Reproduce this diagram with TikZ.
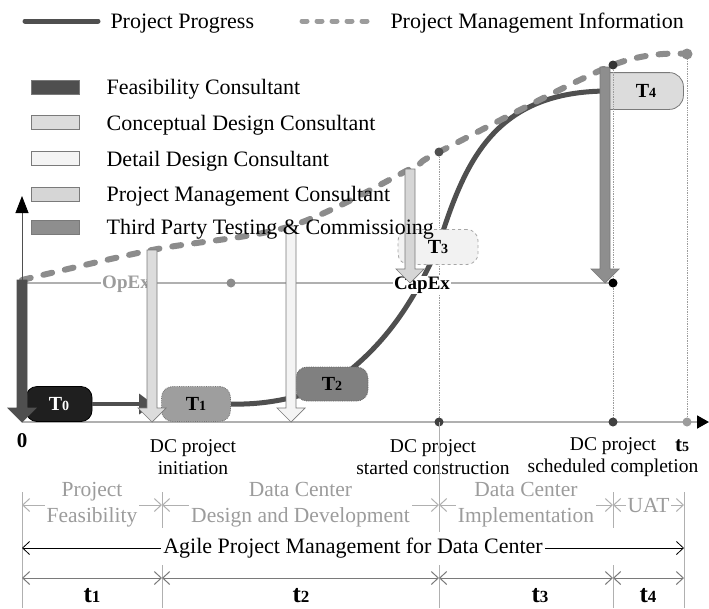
\documentclass[tikz,border=0pt]{standalone}
\usepackage{fontspec}
\setmainfont{Liberation Serif}
\usepackage{tikz}
\usetikzlibrary{shapes,arrows,arrows.meta}
\usetikzlibrary{calc,backgrounds}
\usetikzlibrary{positioning}
\usepackage{xcolor}

\definecolor{progcol}{HTML}{4F4F4F}
\definecolor{infocol}{HTML}{8C8C8C}
\definecolor{feascol}{HTML}{4F4F4F}
\definecolor{conccol}{HTML}{DCDCDC}
\definecolor{detcol}{HTML}{F4F4F4}
\definecolor{pmcol}{HTML}{D6D6D6}
\definecolor{tpcol}{HTML}{8E8E8E}
\definecolor{edgecol}{HTML}{7A7A7A}
\definecolor{softgray}{HTML}{9C9C9C}
\definecolor{linegray}{HTML}{B0B0B0}

\newcommand{\tidx}[2]{#1{\fontsize{14}{14}\selectfont #2}}
\newcommand{\bigidx}[2]{#1{\fontsize{17}{17}\selectfont #2}}
\newcommand{\blockarr}[3]{%
  \filldraw[#1] ($(#2)+(-5,0)$) -- ($(#3)+(-5,-14)$) -- ($(#3)+(-14,-14)$) -- (#3)
    -- ($(#3)+(14,-14)$) -- ($(#3)+(5,-14)$) -- ($(#2)+(5,0)$) -- cycle;}

\tikzset{
  progress/.style={line width=5pt, draw=progcol},
  info/.style={line width=6pt, draw=infocol, dash pattern=on 9pt off 13pt, line cap=round},
  infoleg/.style={line width=5pt, draw=softgray, dash pattern=on 5pt off 10pt, line cap=round},
  legbox/.style={draw=edgecol, line width=0.8pt, minimum width=48pt, minimum height=14pt, inner sep=0pt},
  legtext/.style={inner sep=0pt, text height=15pt, text depth=0pt, font=\fontsize{22}{24}\selectfont},
  tbox/.style={rounded corners=11pt, minimum height=35pt, inner sep=0pt, line width=0.8pt,
    font=\fontsize{20}{20}\selectfont\bfseries},
  blk/.style={line width=0.7pt, draw=edgecol},
  vdot/.style={densely dotted, draw=softgray, line width=0.7pt},
  tick/.style={draw=linegray, line width=1pt},
  rowgray/.style={draw=linegray, line width=1pt,
    {Straight Barb[length=7pt,width=13pt]}-{Straight Barb[length=7pt,width=13pt]}},
  rowdark/.style={draw=edgecol, line width=1pt,
    {Straight Barb[length=7pt,width=13pt]}-{Straight Barb[length=7pt,width=13pt]}},
  rowtext/.style={fill=white, inner sep=2pt, align=center, text=softgray,
    font=\fontsize{21.5}{26}\selectfont},
  dclab/.style={align=center, font=\fontsize{19.5}{22}\selectfont},
  exlab/.style={fill=white, inner sep=1pt, font=\fontsize{19}{19}\selectfont\bfseries},
  boldlab/.style={inner sep=0pt, font=\fontsize{21}{21}\selectfont\bfseries},
  tlab/.style={inner sep=0pt, font=\fontsize{25}{25}\selectfont\bfseries}
}

\begin{document}
\begin{tikzpicture}[x=1pt, y=-1pt]
  \useasboundingbox (0,0) rectangle (709,608);

  % legend
  \draw[progress, line cap=round] (25,21) -- (98,21) node[legtext, right=10pt] (lprog) {Project Progress};
  \draw[infoleg] (302,21) -- (375,21) node[legtext, right=13pt] (linfo) {Project Management Information};

  \node[legbox, fill=feascol] (bfeas) at (55,87) {};
  \node[legbox, fill=conccol] (bconc) [below=21pt of bfeas] {};
  \node[legbox, fill=detcol] (bdet) [below=21pt of bconc] {};
  \node[legbox, fill=pmcol] (bpm) [below=21pt of bdet] {};
  \node[legbox, fill=tpcol] (btp) [below=18pt of bpm] {};

  % axes and guide lines
  \coordinate (o) at (22,422);
  \coordinate (ytop) at (22,196);
  \coordinate (xend) at (709,422);
  \coordinate (opl) at (22,283);
  \coordinate (opd) at (231,283);
  \coordinate (capd) at (613,283);
  \coordinate (m0) at (22,280);
  \coordinate (m1) at (152,250);
  \coordinate (m2) at (291,226);
  \coordinate (m3) at (410,169);
  \coordinate (m4) at (439,152);
  \coordinate (m5) at (613,65);
  \coordinate (m6) at (687,54);
  \coordinate (tptop) at (605,67);

  \draw[draw=progcol, line width=0.8pt, -{Triangle[length=17pt,width=13pt,color=black]}] (o) -- (ytop);
  \draw[draw=linegray, line width=1.8pt, -{Triangle[length=12pt,width=13pt,color=black]}] (o) -- (xend);
  \draw[draw=linegray, line width=1.4pt] (opl) -- (capd);
  \draw[vdot] (m4) -- (m4 |- o);
  \draw[vdot] (m5) -- (m5 |- o);
  \draw[vdot] (m6) -- (m6 |- o);

  % OpEx / CapEx
  \node[exlab, text=softgray] (opex) at (126,284) {OpEx};
  \node[exlab] (capex) at (422,285) {CapEx};

  % stages
  \node[tbox, minimum width=66pt, fill=black!88, draw=black, text=white] (T0) at (59,404) {\tidx{T}{0}};
  \node[tbox, minimum width=69pt, fill=black!38, draw=black!55, densely dotted] (T1) at (196,404) {\tidx{T}{1}};
  \node[tbox, minimum width=72pt, minimum height=34pt, fill=black!50, draw=black!60, densely dotted] (T2) at (332,384) {\tidx{T}{2}};
  \node[tbox, minimum width=80pt, fill=black!5, draw=black!35, dashed] (T3) at (438,247) {\tidx{T}{3}};
  \node[tbox, minimum width=74pt, minimum height=36pt] (T4) at (646,91) {\tidx{T}{4}};

  \begin{scope}[on background layer]
    \draw[progress] (T1.east) .. controls (265,405) and (300,398) .. (T2.center)
      .. controls (380,350) and (410,310) .. (T3.center)
      .. controls (465,160) and (495,91) .. (T4.west);
    \draw[info] plot[smooth, tension=0.55] coordinates {(m0) (m1) (m2) (m3) (m4) (m5) (m6)};
    \filldraw[fill=conccol, draw=edgecol, line width=0.8pt] (T4.north west) [rounded corners=14pt]
      -- (T4.north east) -- (T4.south east) [sharp corners] -- (T4.south west) -- cycle;
  \end{scope}

  \draw[progress, line width=4pt, -{Triangle[length=14pt,width=20pt]}, shorten >=8pt] (T0) -- (T1);

  % consultants
  \coordinate (k1) at (m1 |- o);
  \coordinate (k2) at (m2 |- o);
  \coordinate (k3) at (m3 |- capd);
  \coordinate (k4) at (tptop |- capd);
  \blockarr{blk, fill=feascol, draw=feascol}{m0}{o}
  \blockarr{blk, fill=conccol}{m1}{k1}
  \blockarr{blk, fill=detcol}{m2}{k2}
  \blockarr{blk, fill=pmcol}{m3}{k3}
  \blockarr{blk, fill=tpcol}{tptop}{k4}

  % dots
  \fill[infocol] (opd) circle (4.5);
  \fill[black] (capd) circle (4.5);
  \fill[progcol] (m4) circle (4.5);
  \fill[black!80] (m5) circle (4.5);
  \fill[infocol] (m6) circle (5.5);
  \fill[black!75] (m4 |- o) circle (4.5);
  \fill[black!75] (m5 |- o) circle (4.5);
  \fill[softgray] (m6 |- o) circle (4.5);

  % legend texts
  \node[legtext] (tfeas) [right=27pt of bfeas] {Feasibility Consultant};
  \node[legtext] (tconc) [right=27pt of bconc] {Conceptual Design Consultant};
  \node[legtext] (tdet) [right=27pt of bdet] {Detail Design Consultant};
  \node[legtext] (tpm) [right=27pt of bpm] {Project Management Consultant};
  \node[legtext] (ttp) [right=27pt of btp] {Third Party Testing \& Commissioing};

  % time labels
  \node[boldlab] (zero) at (22,441) {0};
  \node[boldlab] (t5) at (682,446) {\tidx{t}{5}};
  \node[dclab] (dc1) at (193,457) {DC project\\initiation};
  \node[dclab] (dc2) at (433,457) {DC project\\started construction};
  \node[dclab] (dc3) at (613,457) {DC project\\scheduled completion};

  % phases
  \draw[tick] (m4 |- o) -- (439,532);
  \foreach \n/\x in {0/22,1/162,2/439,3/613,4/684} {
    \coordinate (p\n) at (\x,505);
    \coordinate (q\n) at (\x,578);
    \draw[tick] (\x,492) -- (\x,528) (\x,565) -- (\x,608);
  }
  \draw[tick] (22,528) -- (22,565) (684,528) -- (684,565);

  \draw[rowgray] (p0) -- (p1) node[midway, rowtext] {Project\\Feasibility};
  \draw[rowgray] (p1) -- (p2) node[midway, rowtext] {Data Center\\Design and Development};
  \draw[rowgray] (p2) -- (p3) node[midway, rowtext] {Data Center\\Implementation};
  \draw[rowgray] (p3) -- (p4) node[midway, rowtext] {UAT};

  \coordinate (a0) at (22,548);
  \coordinate (a1) at (684,548);
  \draw[rowdark, draw=black, line width=0.8pt] (a0) -- (a1)
    node[midway, fill=white, inner sep=2pt, font=\fontsize{22}{24}\selectfont] {Agile Project Management for Data Center};

  \draw[rowdark] (q0) -- (q1);
  \draw[rowdark] (q1) -- (q2);
  \draw[rowdark] (q2) -- (q3);
  \draw[rowdark] (q3) -- (q4);
  \node[tlab] (t1) at (92,596) {\bigidx{t}{1}};
  \node[tlab] (t2) at (301,596) {\bigidx{t}{2}};
  \node[tlab] (t3) at (540,596) {\bigidx{t}{3}};
  \node[tlab] (t4) at (648,596) {\bigidx{t}{4}};
\end{tikzpicture}
\end{document}
